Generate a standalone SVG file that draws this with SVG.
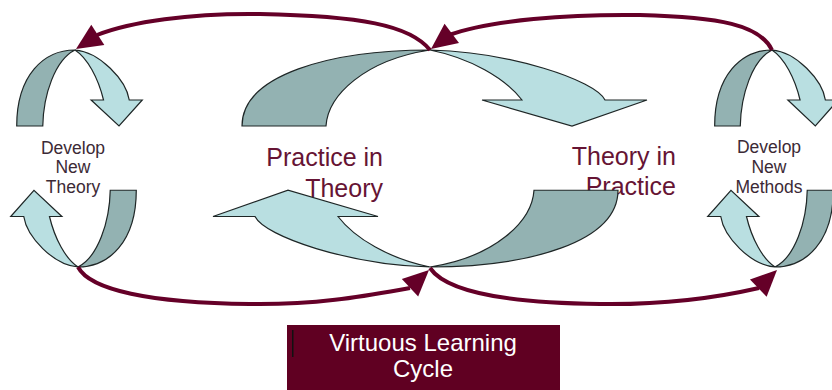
<svg xmlns="http://www.w3.org/2000/svg" xmlns:xlink="http://www.w3.org/1999/xlink" width="832" height="390" viewBox="0 0 832 390">
<style>
.dk{fill:#93b2b2;stroke:#1e2626;stroke-width:1.2;vector-effect:non-scaling-stroke;stroke-linejoin:miter}
.lt{fill:#b9dfe1;stroke:#1e2626;stroke-width:1.2;vector-effect:non-scaling-stroke;stroke-linejoin:miter}
.big{font-family:"Liberation Sans",Arial,sans-serif;font-size:25px;fill:#661434;text-anchor:end}
.sm{font-family:"Liberation Sans",Arial,sans-serif;font-size:17.5px;fill:#3c2a36;text-anchor:middle}
.box{font-family:"Liberation Sans",Arial,sans-serif;font-size:24px;fill:#ffffff;text-anchor:middle}
.con{fill:none;stroke:#650028;stroke-width:4;stroke-linecap:butt}
.ahd{fill:#650028}
</style>
<defs>
<g id="curve">
<path class="dk" d="M-188,76 C-188,25 -100,0 0,0 C-65,10 -102,45 -104,76 Z"/>
<path class="lt" d="M0,0 C80,2 165,30 175,50 L217,50 L142,76 L52,50 L92,50 C75,28 40,8 0,0 Z"/>
</g>
<path id="ah" d="M0,0 L-26,-12 L-26,12 Z"/>
</defs>

<g id="label-practice-in-theory">
<text class="big" x="383" y="166">Practice in</text>
<text class="big" x="383" y="197">Theory</text>
</g>
<g id="label-theory-in-practice">
<text class="big" x="676" y="165">Theory in</text>
<text class="big" x="676" y="195">Practice</text>
</g>

<g id="arrow-top-left"><use xlink:href="#curve" transform="translate(75,50) scale(0.31,1)"/></g>
<g id="arrow-top-middle"><use xlink:href="#curve" transform="translate(430,50)"/></g>
<g id="arrow-top-right"><use xlink:href="#curve" transform="translate(772,50) scale(0.305,1)"/></g>
<g id="arrow-bottom-left"><use xlink:href="#curve" transform="translate(78,267) scale(-0.31,-1.01)"/></g>
<g id="arrow-bottom-middle"><use xlink:href="#curve" transform="translate(430,267) scale(-1,-1.01)"/></g>
<g id="arrow-bottom-right"><use xlink:href="#curve" transform="translate(775,267) scale(-0.31,-1.01)"/></g>

<g id="connectors">
<path class="con" d="M430,50 C410,25 360,16 260,14 C190,13 130,22 97,35"/>
<use class="ahd" xlink:href="#ah" transform="translate(76,49) rotate(147)"/>
<path class="con" d="M772,50 C760,25 720,17 640,15 C570,14 490,20 449,35"/>
<use class="ahd" xlink:href="#ah" transform="translate(431,49) rotate(143)"/>
<path class="con" d="M78,267 C90,290 150,303 250,304 C320,305 370,295 410,288"/>
<use class="ahd" xlink:href="#ah" transform="translate(429,270) rotate(-43)"/>
<path class="con" d="M430,268 C445,290 500,303 600,304 C670,305 720,297 759,288"/>
<use class="ahd" xlink:href="#ah" transform="translate(777,270) rotate(-44)"/>
</g>

<g id="label-develop-new-theory">
<text class="sm" x="73" y="154">Develop</text>
<text class="sm" x="73" y="173">New</text>
<text class="sm" x="73" y="193">Theory</text>
</g>
<g id="label-develop-new-methods">
<text class="sm" x="769" y="153">Develop</text>
<text class="sm" x="769" y="173">New</text>
<text class="sm" x="769" y="193">Methods</text>
</g>

<g id="virtuous-learning-cycle">
<rect x="287" y="325" width="273" height="66" fill="#600022"/>
<rect x="292" y="330" width="1.5" height="27" fill="#111111"/>
<text class="box" x="423" y="351">Virtuous Learning</text>
<text class="box" x="423" y="377">Cycle</text>
</g>
</svg>
